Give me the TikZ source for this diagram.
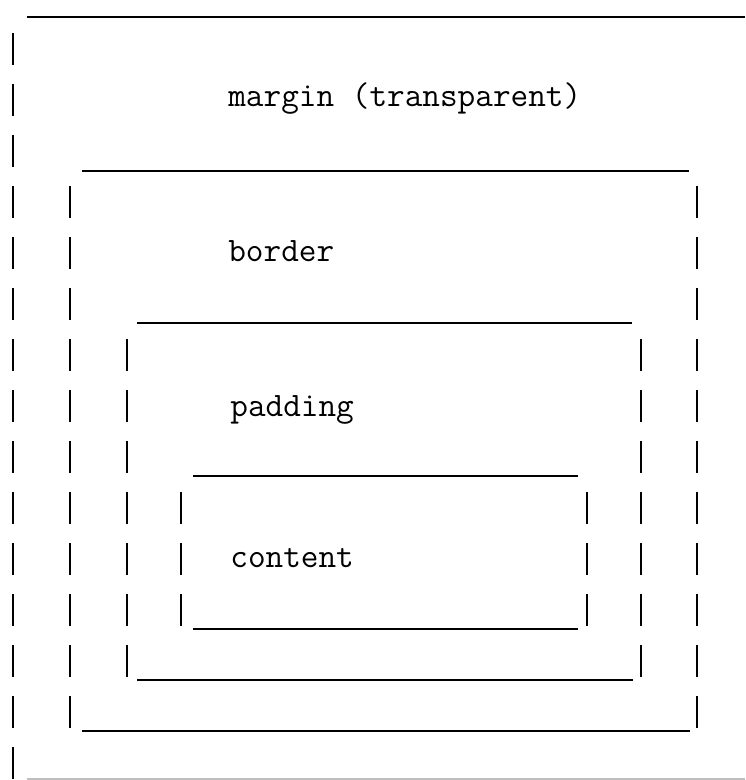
\documentclass[tikz,border=0pt]{standalone}
\newlength{\px}
\setlength{\px}{0.02cm}

\tikzset{
  topline/.style={line width=1.6pt},
  sideline/.style={line width=1.2pt, dash pattern=on 32\px off 19\px},
  frameline/.style={line width=0.6pt, black!25},
  boxtext/.style={anchor=base west, inner sep=0pt, font=\ttfamily\fontsize{19.5}{22}\selectfont}
}

\begin{document}
\begin{tikzpicture}[x=0.02cm, y=-0.02cm]
    \useasboundingbox (0,0) rectangle (745,780);

    % Margin box
    \coordinate (margin-tl) at (27,17);
    \coordinate (margin-tr) at (745,17);
    \coordinate (margin-lt) at (13,33);
    \coordinate (margin-lb) at (13,779);
    \coordinate (frame-l) at (27,779);
    \coordinate (frame-r) at (745,779);
    \node[boxtext] (margin) at (228,107) {margin (transparent)};

    % Border box
    \coordinate (border-tl) at (82,171);
    \coordinate (border-tr) at (689,171);
    \coordinate (border-bl) at (82,731);
    \coordinate (border-br) at (690,731);
    \coordinate (border-lt) at (70,186);
    \coordinate (border-lb) at (70,728);
    \coordinate (border-rt) at (697,186);
    \coordinate (border-rb) at (697,728);
    \node[boxtext] (border) at (228,262) {border};

    % Padding box
    \coordinate (padding-tl) at (137,323);
    \coordinate (padding-tr) at (632,323);
    \coordinate (padding-bl) at (137,680);
    \coordinate (padding-br) at (633,680);
    \coordinate (padding-lt) at (127,339);
    \coordinate (padding-lb) at (127,677);
    \coordinate (padding-rt) at (641,339);
    \coordinate (padding-rb) at (641,677);
    \node[boxtext] (padding) at (230,416) {padding};

    % Content box
    \coordinate (content-tl) at (193,476);
    \coordinate (content-tr) at (578,476);
    \coordinate (content-bl) at (193,629);
    \coordinate (content-br) at (578,629);
    \coordinate (content-lt) at (181,492);
    \coordinate (content-lb) at (181,626);
    \coordinate (content-rt) at (587,492);
    \coordinate (content-rb) at (587,626);
    \node[boxtext] (content) at (230,567) {content};

    % Solid edges
    \draw[topline] (margin-tl) -- (margin-tr);
    \draw[topline] (border-tl) -- (border-tr);
    \draw[topline] (border-bl) -- (border-br);
    \draw[topline] (padding-tl) -- (padding-tr);
    \draw[topline] (padding-bl) -- (padding-br);
    \draw[topline] (content-tl) -- (content-tr);
    \draw[topline] (content-bl) -- (content-br);
    \draw[frameline] (frame-l) -- (frame-r);

    % Dashed sides
    \draw[sideline] (margin-lt) -- (margin-lb);
    \draw[sideline] (border-lt) -- (border-lb);
    \draw[sideline] (border-rt) -- (border-rb);
    \draw[sideline] (padding-lt) -- (padding-lb);
    \draw[sideline] (padding-rt) -- (padding-rb);
    \draw[sideline] (content-lt) -- (content-lb);
    \draw[sideline] (content-rt) -- (content-rb);
\end{tikzpicture}
\end{document}
